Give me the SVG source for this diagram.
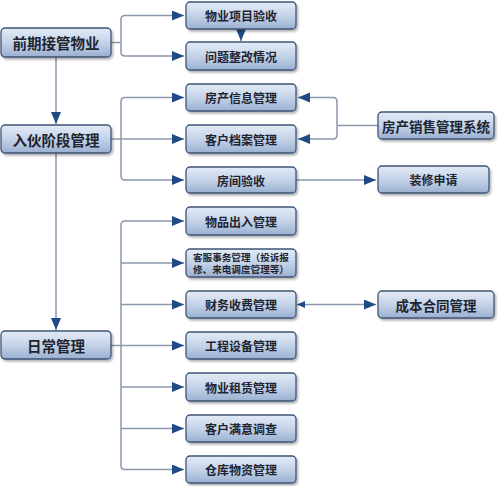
<svg xmlns="http://www.w3.org/2000/svg" width="500" height="486" viewBox="0 0 500 486">
<defs>
<linearGradient id="g" x1="0" y1="0" x2="0" y2="1">
<stop offset="0" stop-color="#e3ebf6"/>
<stop offset="0.5" stop-color="#c5d3e8"/>
<stop offset="1" stop-color="#9ab0d1"/>
</linearGradient>
<filter id="sh" x="-10%" y="-20%" width="130%" height="160%">
<feDropShadow dx="1.5" dy="2" stdDeviation="1.2" flood-color="#000" flood-opacity="0.3"/>
</filter>
<marker id="a" markerUnits="userSpaceOnUse" markerWidth="13" markerHeight="11" refX="12" refY="5" orient="auto">
<path d="M0,0 L12,5 L0,10 z" fill="#1f4a85"/>
</marker>
<marker id="s" markerUnits="userSpaceOnUse" markerWidth="9" markerHeight="8" refX="0" refY="3.5" orient="auto">
<path d="M8,0 L0,3.5 L8,7 z" fill="#1f4a85"/>
</marker>
</defs>
<style>
.n rect{fill:url(#g);stroke:#3e5476;stroke-width:1.3;filter:url(#sh)}
.n text{font-family:"Noto Sans CJK SC","Noto Sans",sans-serif;font-weight:bold;fill:#1e2430;text-anchor:middle;dominant-baseline:central}
.L text{font-size:14.5px}
.M text{font-size:12px}
.R text{font-size:13.5px}
.n text.sm{font-size:9.6px;text-anchor:start}
.c path{fill:none;stroke:#8a97ad;stroke-width:1.5}
</style>
<rect width="500" height="486" fill="#fff"/>
<g class="c">
<path d="M56,57 V124" marker-end="url(#a)"/>
<path d="M56,153 V330" marker-end="url(#a)"/>
<path d="M241,29 V41" marker-end="url(#a)"/>
<path d="M111,42.5 H121"/>
<path d="M121,42.5 V19.5 Q121,15.5 125,15.5 H184" marker-end="url(#a)"/>
<path d="M121,42.5 V52 Q121,56 125,56 H184" marker-end="url(#a)"/>
<path d="M111,139 H184" marker-end="url(#a)"/>
<path d="M121,139 V101.5 Q121,97.5 125,97.5 H184" marker-end="url(#a)"/>
<path d="M121,139 V176 Q121,180 125,180 H184" marker-end="url(#a)"/>
<path d="M378,125.5 H337"/>
<path d="M337,125.5 V101.5 Q337,97.5 333,97.5 H298" marker-end="url(#a)"/>
<path d="M337,125.5 V135 Q337,139 333,139 H298" marker-end="url(#a)"/>
<path d="M296,180 H376" marker-end="url(#a)"/>
<path d="M297,304.5 H376" marker-start="url(#s)" marker-end="url(#a)"/>
<path d="M111,345.5 H184" marker-end="url(#a)"/>
<path d="M121,345.5 V225 Q121,221 125,221 H184" marker-end="url(#a)"/>
<path d="M121,263 H184" marker-end="url(#a)"/>
<path d="M121,304.5 H184" marker-end="url(#a)"/>
<path d="M121,387 H184" marker-end="url(#a)"/>
<path d="M121,428.5 H184" marker-end="url(#a)"/>
<path d="M121,345.5 V465.5 Q121,469.5 125,469.5 H184" marker-end="url(#a)"/>
</g>
<g id="n1" class="n L"><rect x="1" y="28" width="110" height="29" rx="4"/><text x="56" y="42.5">前期接管物业</text></g>
<g id="n2" class="n L"><rect x="1" y="125" width="110" height="28" rx="4"/><text x="56" y="139">入伙阶段管理</text></g>
<g id="n3" class="n L"><rect x="1" y="331" width="110" height="28" rx="4"/><text x="56" y="345">日常管理</text></g>
<g id="m1" class="n M"><rect x="186" y="2" width="110" height="27" rx="4"/><text x="241" y="15.5">物业项目验收</text></g>
<g id="m2" class="n M"><rect x="186" y="42" width="110" height="28" rx="4"/><text x="241" y="56">问题整改情况</text></g>
<g id="m3" class="n M"><rect x="186" y="84" width="110" height="27" rx="4"/><text x="241" y="97.5">房产信息管理</text></g>
<g id="m4" class="n M"><rect x="186" y="125" width="110" height="28" rx="4"/><text x="241" y="139">客户档案管理</text></g>
<g id="m5" class="n M"><rect x="186" y="167" width="110" height="26" rx="4"/><text x="241" y="180">房间验收</text></g>
<g id="m6" class="n M"><rect x="186" y="207" width="110" height="28" rx="4"/><text x="241" y="221">物品出入管理</text></g>
<g id="m7" class="n M"><rect x="186" y="249" width="110" height="28" rx="4"/><text class="sm" x="193" y="256.5">客服事务管理（投诉报</text><text class="sm" x="193" y="269">修、来电调度管理等）</text></g>
<g id="m8" class="n M"><rect x="186" y="291" width="110" height="27" rx="4"/><text x="241" y="304.5">财务收费管理</text></g>
<g id="m9" class="n M"><rect x="186" y="332" width="110" height="27" rx="4"/><text x="241" y="345.5">工程设备管理</text></g>
<g id="m10" class="n M"><rect x="186" y="373" width="110" height="28" rx="4"/><text x="241" y="387">物业租赁管理</text></g>
<g id="m11" class="n M"><rect x="186" y="415" width="110" height="27" rx="4"/><text x="241" y="428.5">客户满意调查</text></g>
<g id="m12" class="n M"><rect x="186" y="456" width="110" height="27" rx="4"/><text x="241" y="469.5">仓库物资管理</text></g>
<g id="r1" class="n R"><rect x="378" y="112" width="116" height="27" rx="4"/><text x="436" y="125.5">房产销售管理系统</text></g>
<g id="r2" class="n M"><rect x="378" y="166" width="111" height="27" rx="4"/><text x="433.5" y="179.5">装修申请</text></g>
<g id="r3" class="n R"><rect x="378" y="291" width="116" height="27" rx="4"/><text x="436" y="304.5">成本合同管理</text></g>
</svg>
